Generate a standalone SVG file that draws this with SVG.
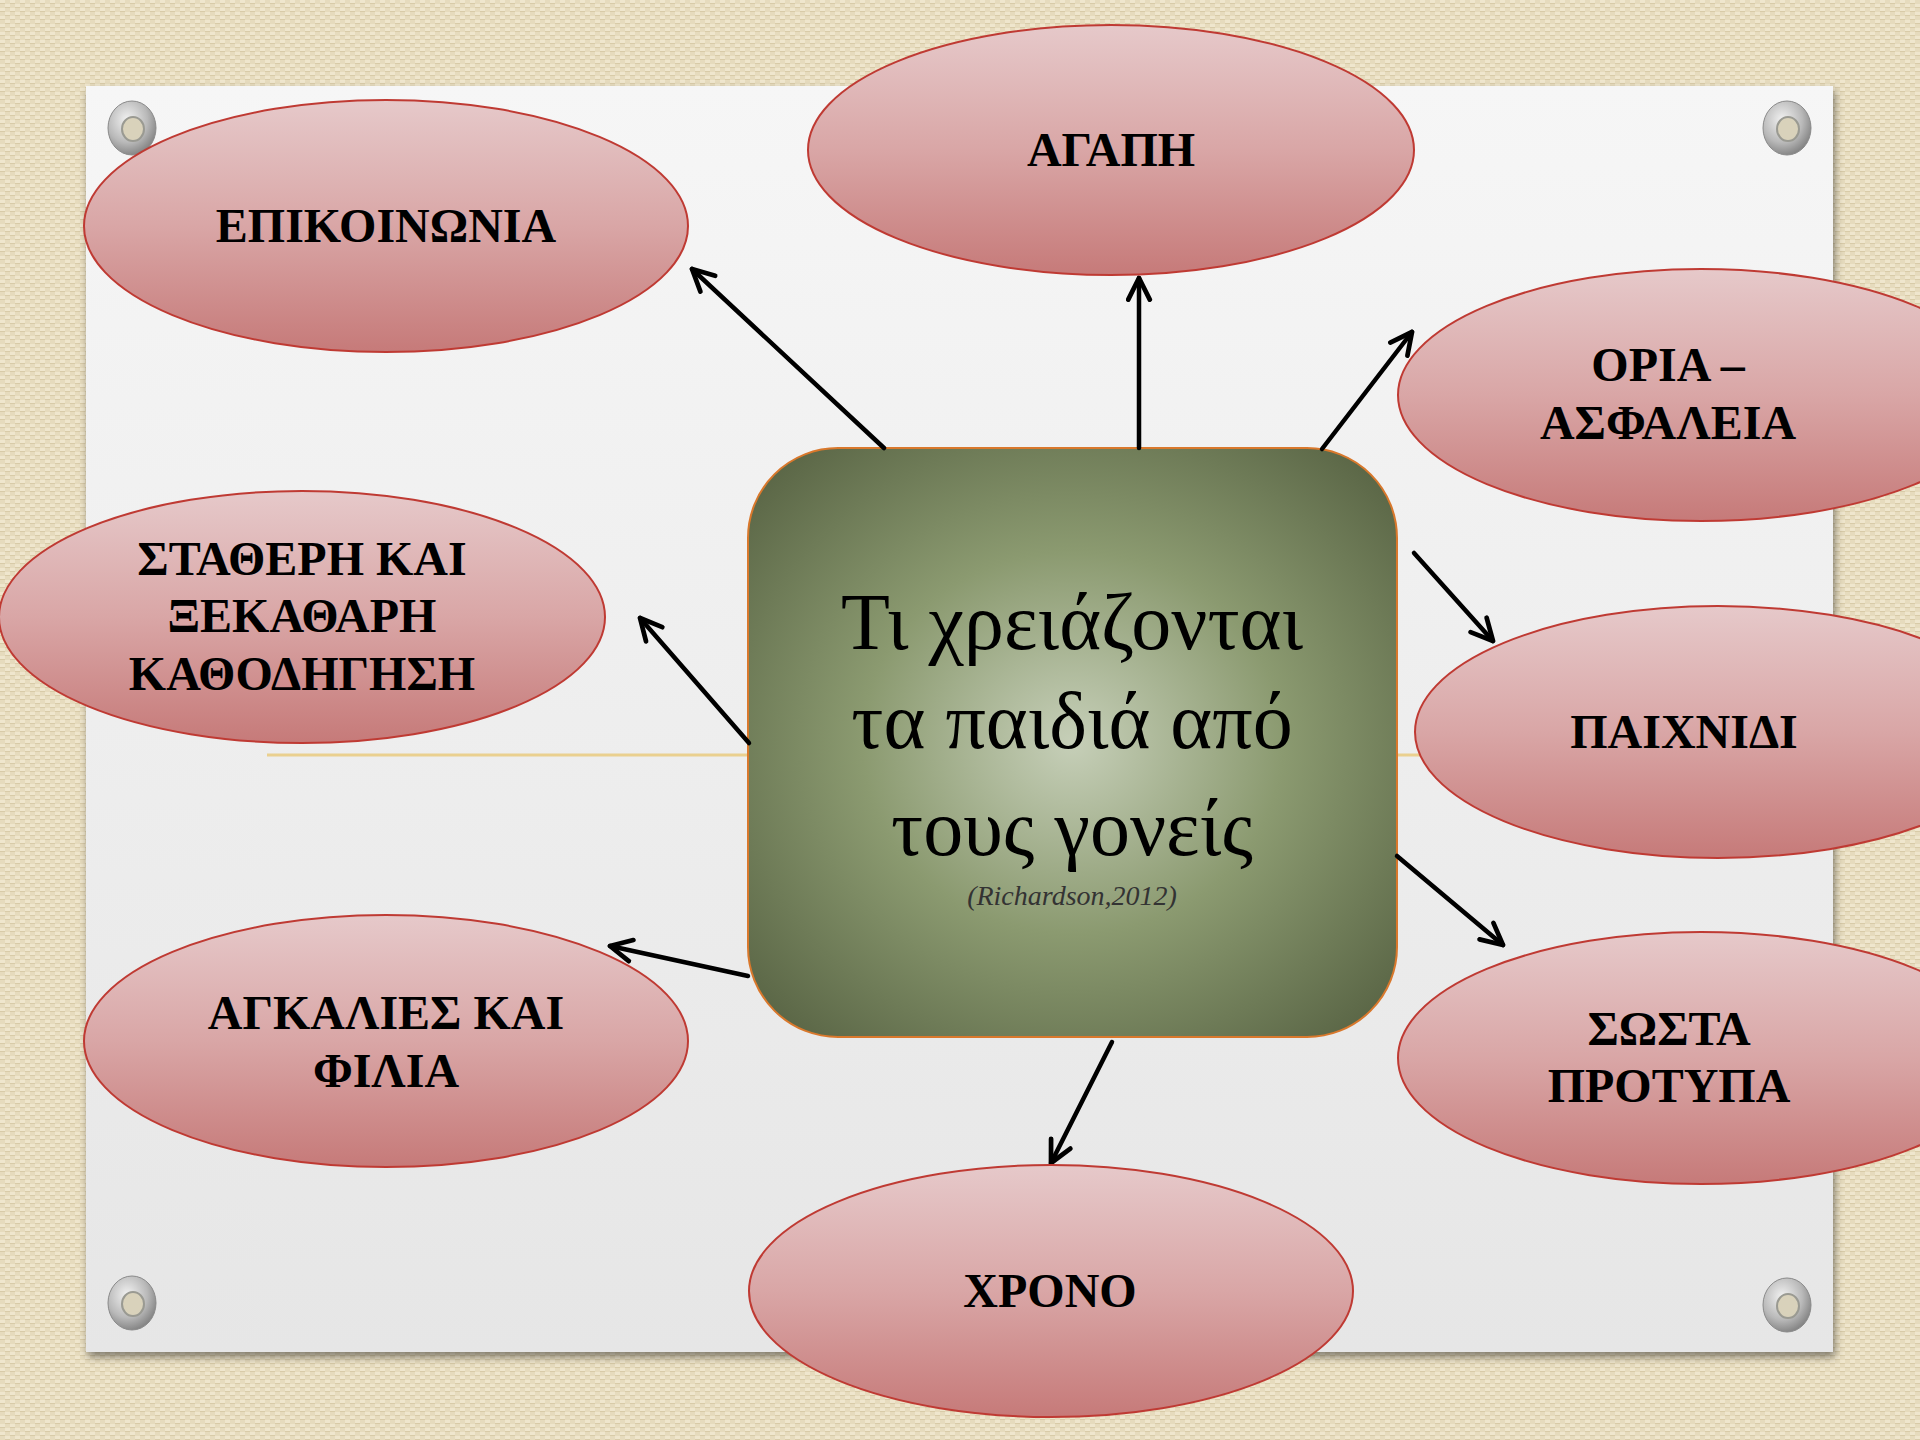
<svg xmlns="http://www.w3.org/2000/svg" width="1920" height="1440" viewBox="0 0 1920 1440">
<defs>
  <pattern id="weave" width="10" height="8" patternUnits="userSpaceOnUse">
    <rect width="10" height="8" fill="#e6dbbd"/>
    <rect x="0" y="0" width="5" height="3" fill="#efe6cd"/>
    <rect x="5" y="4" width="5" height="3" fill="#efe6cd"/>
    <rect x="0" y="3" width="5" height="1" fill="#d8cba8"/>
    <rect x="5" y="7" width="5" height="1" fill="#d8cba8"/>
  </pattern>
  <linearGradient id="paperGrad" x1="0" y1="0" x2="0" y2="1">
    <stop offset="0" stop-color="#f6f6f6"/>
    <stop offset="1" stop-color="#e6e6e6"/>
  </linearGradient>
  <linearGradient id="ellGrad" x1="0" y1="0" x2="0" y2="1">
    <stop offset="0" stop-color="#e6c9ca"/>
    <stop offset="0.5" stop-color="#d9a6a6"/>
    <stop offset="1" stop-color="#c67a79"/>
  </linearGradient>
  <radialGradient id="centerGrad" cx="0.5" cy="0.5" r="0.72">
    <stop offset="0" stop-color="#c6cfb8"/>
    <stop offset="0.45" stop-color="#8b9a70"/>
    <stop offset="1" stop-color="#515c3e"/>
  </radialGradient>
  <radialGradient id="grommet" cx="0.4" cy="0.35" r="0.7">
    <stop offset="0" stop-color="#f2f2f2"/>
    <stop offset="0.6" stop-color="#b9b9b9"/>
    <stop offset="1" stop-color="#7d7d7d"/>
  </radialGradient>
  <filter id="shadow" x="-5%" y="-5%" width="110%" height="110%">
    <feDropShadow dx="2" dy="5" stdDeviation="4" flood-color="#000" flood-opacity="0.45"/>
  </filter>
  <marker id="arrow" viewBox="0 0 20 20" refX="18" refY="10" markerWidth="6" markerHeight="6" orient="auto" markerUnits="strokeWidth">
    <path d="M2,2 L18,10 L2,18" fill="none" stroke="#000" stroke-width="3.5" stroke-linecap="round" stroke-linejoin="round"/>
  </marker>
  <style>
    .ell { fill: url(#ellGrad); stroke: #bf3a33; stroke-width: 2; }
    .lbl { font-family: "Liberation Serif", "DejaVu Serif", serif; font-weight: bold; font-size: 48px; fill: #000; text-anchor: middle; }
    .conn { stroke: #000; stroke-width: 4.5; fill: none; marker-end: url(#arrow); stroke-linecap: round; }
    .ctr { font-family: "Liberation Serif", "DejaVu Serif", serif; font-size: 80px; fill: #000; text-anchor: middle; }
    .gr { fill: url(#grommet); stroke: #8a8a8a; stroke-width: 1; }
    .gh { fill: #d9d2bb; stroke: #9a9a92; stroke-width: 2; }
  </style>
</defs>

<rect width="1920" height="1440" fill="url(#weave)"/>
<rect x="86" y="86" width="1747" height="1266" fill="url(#paperGrad)" filter="url(#shadow)"/>
<line x1="267" y1="755" x2="1420" y2="755" stroke="#ead08f" stroke-width="3"/>

<g id="grommets">
  <g><ellipse class="gr" cx="132" cy="128" rx="24" ry="27"/><ellipse class="gh" cx="133" cy="129" rx="11" ry="12"/></g>
  <g><ellipse class="gr" cx="1787" cy="128" rx="24" ry="27"/><ellipse class="gh" cx="1788" cy="129" rx="11" ry="12"/></g>
  <g><ellipse class="gr" cx="132" cy="1303" rx="24" ry="27"/><ellipse class="gh" cx="133" cy="1304" rx="11" ry="12"/></g>
  <g><ellipse class="gr" cx="1787" cy="1305" rx="24" ry="27"/><ellipse class="gh" cx="1788" cy="1306" rx="11" ry="12"/></g>
</g>

<g id="center">
  <rect x="748" y="448" width="649" height="589" rx="90" ry="90" fill="url(#centerGrad)" stroke="#d9782c" stroke-width="2"/>
  <text class="ctr" x="1072" y="649">Τι χρειάζονται</text>
  <text class="ctr" x="1072" y="748">τα παιδιά από</text>
  <text class="ctr" x="1072" y="855">τους γονείς</text>
  <text x="1072" y="905" font-family="Liberation Serif, serif" font-style="italic" font-size="28" fill="#333" text-anchor="middle">(Richardson,2012)</text>
</g>

<g id="connectors">
  <line class="conn" x1="884" y1="448" x2="692" y2="269"/>
  <line class="conn" x1="1139" y1="448" x2="1139" y2="278"/>
  <line class="conn" x1="1322" y1="449" x2="1412" y2="332"/>
  <line class="conn" x1="1414" y1="553" x2="1493" y2="641"/>
  <line class="conn" x1="749" y1="743" x2="640" y2="618"/>
  <line class="conn" x1="748" y1="976" x2="610" y2="946"/>
  <line class="conn" x1="1397" y1="856" x2="1503" y2="945"/>
  <line class="conn" x1="1112" y1="1042" x2="1051" y2="1163"/>
</g>

<g id="node-epikoinonia">
  <ellipse class="ell" cx="386" cy="226" rx="302" ry="126"/>
  <text class="lbl" x="386" y="242" font-size="50">ΕΠΙΚΟΙΝΩΝΙΑ</text>
</g>
<g id="node-agapi">
  <ellipse class="ell" cx="1111" cy="150" rx="303" ry="125"/>
  <text class="lbl" x="1111" y="166">ΑΓΑΠΗ</text>
</g>
<g id="node-oria">
  <ellipse class="ell" cx="1701" cy="395" rx="303" ry="126"/>
  <text class="lbl" x="1668" y="381">ΟΡΙΑ –</text>
  <text class="lbl" x="1668" y="439">ΑΣΦΑΛΕΙΑ</text>
</g>
<g id="node-statheri">
  <ellipse class="ell" cx="302" cy="617" rx="303" ry="126"/>
  <text class="lbl" x="302" y="575">ΣΤΑΘΕΡΗ ΚΑΙ</text>
  <text class="lbl" x="302" y="632">ΞΕΚΑΘΑΡΗ</text>
  <text class="lbl" x="302" y="690">ΚΑΘΟΔΗΓΗΣΗ</text>
</g>
<g id="node-paixnidi">
  <ellipse class="ell" cx="1718" cy="732" rx="303" ry="126"/>
  <text class="lbl" x="1684" y="748">ΠΑΙΧΝΙΔΙ</text>
</g>
<g id="node-agkalies">
  <ellipse class="ell" cx="386" cy="1041" rx="302" ry="126"/>
  <text class="lbl" x="386" y="1029">ΑΓΚΑΛΙΕΣ ΚΑΙ</text>
  <text class="lbl" x="386" y="1087">ΦΙΛΙΑ</text>
</g>
<g id="node-swsta">
  <ellipse class="ell" cx="1701" cy="1058" rx="303" ry="126"/>
  <text class="lbl" x="1669" y="1045">ΣΩΣΤΑ</text>
  <text class="lbl" x="1669" y="1102">ΠΡΟΤΥΠΑ</text>
</g>
<g id="node-xrono">
  <ellipse class="ell" cx="1051" cy="1291" rx="302" ry="126"/>
  <text class="lbl" x="1050" y="1307">ΧΡΟΝΟ</text>
</g>
</svg>
